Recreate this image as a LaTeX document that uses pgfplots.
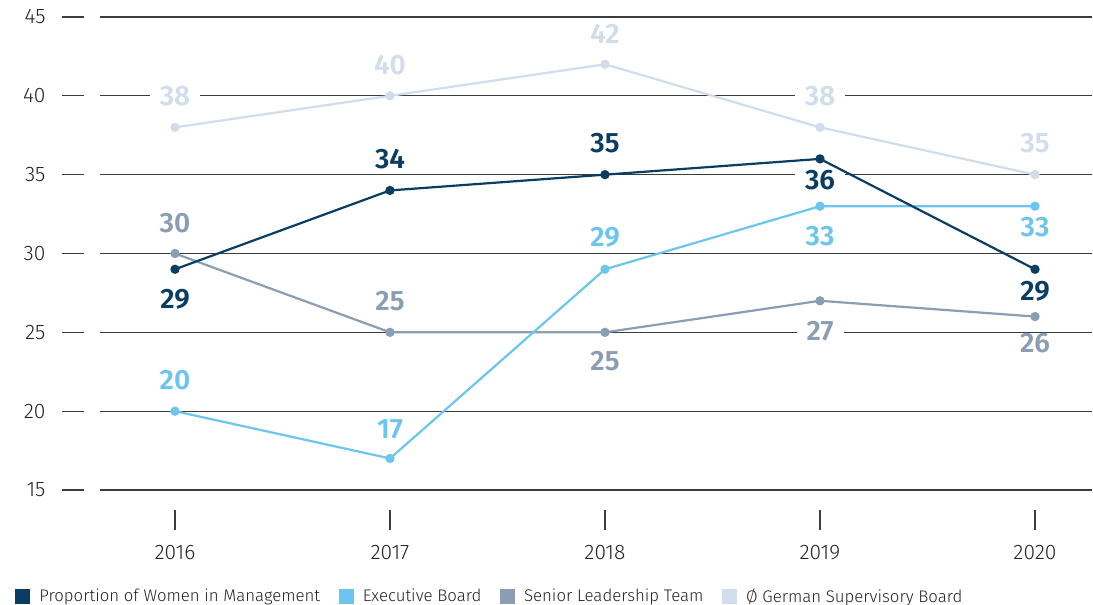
\documentclass[border=0pt]{standalone}
\usepackage{fontspec}
\setmainfont{Fira Sans Light}[BoldFont={Fira Sans SemiBold}]
\usepackage{pgfplots}
\usepackage{pgfplotstable}
\pgfplotsset{compat=1.18}

\definecolor{darkc}{RGB}{10,61,98}
\definecolor{bluec}{RGB}{108,197,239}
\definecolor{grayc}{RGB}{138,157,179}
\definecolor{palec}{RGB}{210,221,235}
\definecolor{gridc}{RGB}{60,60,60}
\definecolor{txtc}{RGB}{34,34,34}

% x, value, label offset (pt)
\pgfplotstableread{
x y o
2016 29 -30
2017 34 31
2018 35 32
2019 36 -21
2020 29 -22
}\mgmt
\pgfplotstableread{
x y o
2016 20 31
2017 17 29
2018 29 32
2019 33 -30
2020 33 -21
}\exec
\pgfplotstableread{
x y o
2016 30 30
2017 25 31
2018 25 -29
2019 27 -30
2020 26 -27
}\slt
\pgfplotstableread{
x y o
2016 38 31
2017 40 31
2018 42 30
2019 38 31
2020 35 32
}\gsb

\pgfplotsset{
  labels/.style={draw=none, mark=*, mark size=0pt, forget plot,
    nodes near coords, every node near coord/.append style={text=#1}},
  series/.style={#1, line width=2.2pt, mark=*, mark size=3.5pt, forget plot},
}

\begin{document}
\begin{tikzpicture}
\useasboundingbox (0,0) rectangle (1093pt,605pt);
\begin{axis}[
  at={(62pt,75pt)}, anchor=south west,
  width=1030pt, height=513pt, scale only axis,
  xmin=2015.4744, xmax=2020.265, ymin=12.463, ymax=45,
  xtick={2016,...,2020}, ytick={15,20,...,45},
  ymajorgrids, grid style={draw=gridc, line width=1.2pt},
  axis line style={draw=none},
  xtick pos=left, tick align=inside, major tick length=20pt,
  ytick style={draw=none}, xtick style={draw=gridc, line width=1.2pt},
  /pgf/number format/assume math mode=true,
  /pgf/number format/1000 sep={},
  tick label style={font=\fontsize{21}{24}\selectfont, text=txtc},
  yticklabel style={xshift=-13pt},
  xticklabel style={yshift=-12pt},
  clip=false, clip marker paths=true,
  visualization depends on={\thisrow{o} \as \off},
  every node near coord/.append style={anchor=center, yshift=\off pt,
    fill=white, inner xsep=10pt, inner ysep=1pt,
    font=\fontsize{28}{30}\bfseries\selectfont},
  legend image code/.code={\fill[#1] (0pt,-7pt) rectangle (14pt,7pt);
    \path[draw=none, fill=none] (14pt,0pt) -- (22pt,0pt);},
  legend style={draw=none, fill=none, at={(-0.0457,-0.1287)}, anchor=west,
    font=\fontsize{16.8}{20}\selectfont, text=txtc, inner sep=0pt,
    /tikz/every even column/.append style={column sep=16.5pt}},
  legend columns=4, legend cell align=left,
]
\addlegendimage{darkc}\addlegendentry{Proportion of Women in Management}
\addlegendimage{bluec}\addlegendentry{Executive Board}
\addlegendimage{grayc}\addlegendentry{Senior Leadership Team}
\addlegendimage{palec}\addlegendentry{Ø German Supervisory Board}

% value labels first, so that the lines run over their white boxes
\addplot[labels=palec] table[x=x, y=y] {\gsb};
\addplot[labels=grayc] table[x=x, y=y] {\slt};
\addplot[labels=bluec] table[x=x, y=y] {\exec};
\addplot[labels=darkc] table[x=x, y=y] {\mgmt};

\addplot[series=palec] table[x=x, y=y] {\gsb};
\addplot[series=grayc] table[x=x, y=y] {\slt};
\addplot[series=bluec] table[x=x, y=y] {\exec};
\addplot[series=darkc] table[x=x, y=y] {\mgmt};

% short break in the grid lines near the left edge
\fill[white] (axis cs:2015.577,14) rectangle (axis cs:2015.651,46);
\end{axis}
\end{tikzpicture}
\end{document}
